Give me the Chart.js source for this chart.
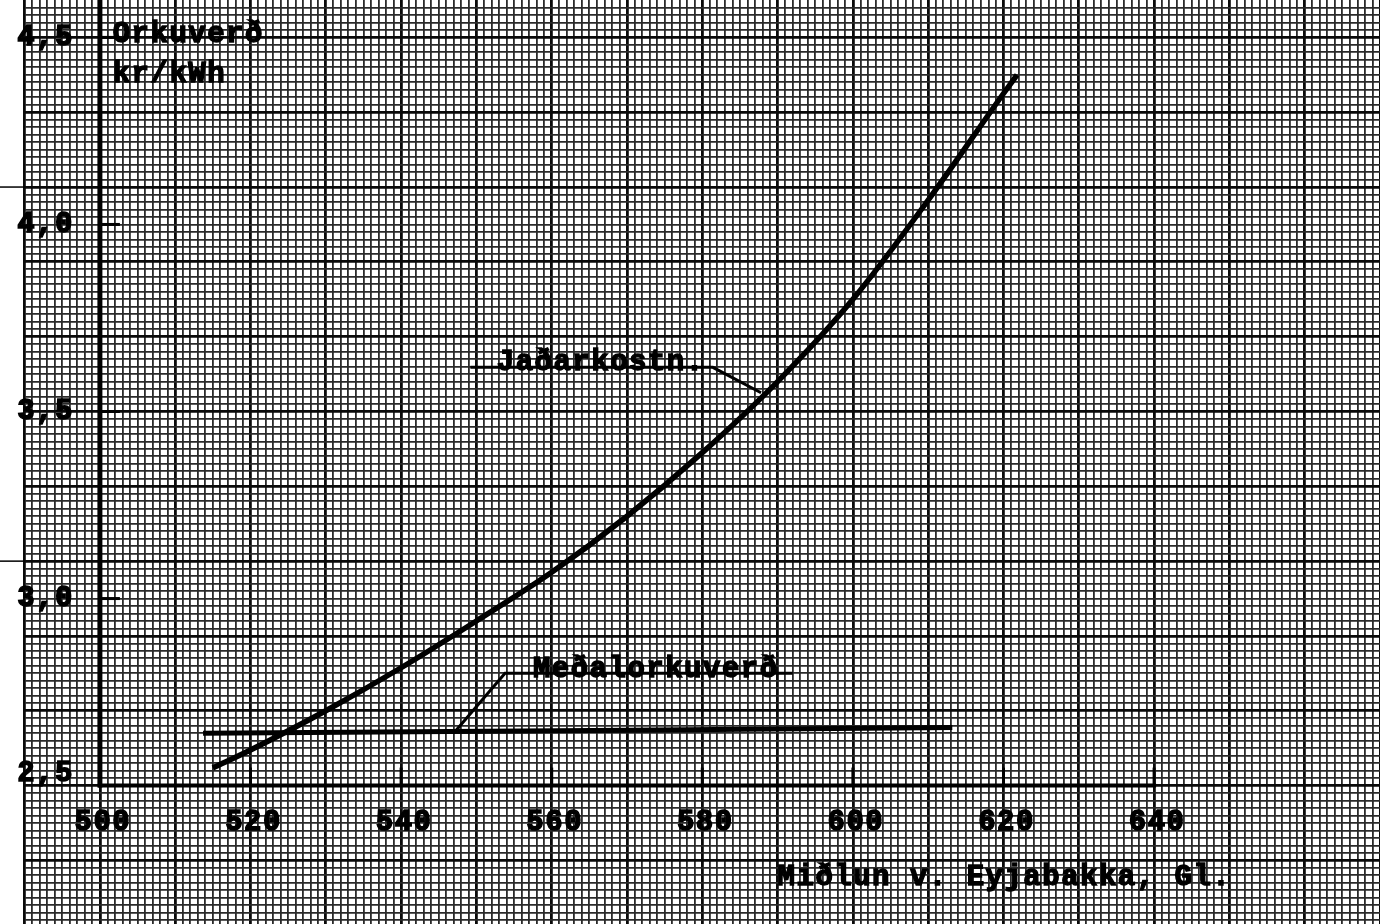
<!DOCTYPE html>
<html>
<head>
<meta charset="utf-8">
<title>Orkuverð</title>
<script src="https://cdn.jsdelivr.net/npm/chart.js@4.4.1/dist/chart.umd.min.js"></script>
<style>
  html, body { margin: 0; padding: 0; background: #fff; }
  canvas { display: block; }
</style>
</head>
<body>
<canvas id="chart" width="1380" height="924"></canvas>
<script>
// Miðlun v. Eyjabakka (Gl) against energy price, kr/kWh
const midlun = [515, 520, 530, 540, 550, 560, 570, 580, 590, 600, 610, 620, 621.8];
const jadarkostn = [2.547, 2.595, 2.70, 2.815, 2.94, 3.07, 3.22, 3.39, 3.58, 3.80, 4.065, 4.35, 4.40];

const medalX = [513.7, 570, 613.2];
const medalorkuverd = [2.640, 2.648, 2.655];

const xTickValues = [500, 520, 540, 560, 580, 600, 620, 640];
const xTickLabels = ['500', '520', '540', '560', '580', '600', '620', '640'];
const yTickValues = [4.5, 4.0, 3.5, 3.0, 2.5];
const yTickLabels = ['4,5', '4,0', '3,5', '3,0', '2,5'];

const yTitle = ['Orkuverð', 'kr/kWh'];
const xTitle = 'Miðlun v. Eyjabakka, Gl.';
const costLabel = 'Jaðarkostn.';
const meanLabel = 'Meðalorkuverð';

// Graph paper extent (x in Gl, y in kr/kWh)
const PAPER = { xMin: 490, xMax: 670, yMin: 2.13, yMax: 4.6 };

const FONT = 'bold 29px "Liberation Mono", "DejaVu Sans Mono", monospace';

function paperLinesX() {
  const out = [];
  for (let v = PAPER.xMin; v <= PAPER.xMax; v++) out.push({ value: v });
  return out;
}
function paperLinesY() {
  const out = [];
  for (let i = Math.ceil(PAPER.yMin * 50); i <= Math.floor(PAPER.yMax * 50); i++) out.push({ value: i / 50 });
  return out;
}
const isMajorX = v => Math.round(v) % 10 === 0;
const isMajorY = v => Math.round(v * 50) % 10 === 5;

function typeText(ctx, text, x, y, align, baseline) {
  ctx.save();
  ctx.font = FONT;
  ctx.letterSpacing = '1.5px';
  ctx.textAlign = align;
  ctx.textBaseline = baseline;
  ctx.fillStyle = '#000';
  ctx.strokeStyle = '#000';
  ctx.lineWidth = 1.4;
  ctx.fillText(text, x, y);
  ctx.strokeText(text, x, y);
  ctx.restore();
}

const paperAxes = {
  id: 'paperAxes',
  afterDraw(chart) {
    const { ctx, scales: { x, y } } = chart;
    const ax = x.getPixelForValue(500);
    const ay = y.getPixelForValue(2.5);
    const xEnd = x.getPixelForValue(640);

    ctx.save();
    ctx.strokeStyle = '#000';
    ctx.lineCap = 'butt';

    // margin marks continuing two heavy paper lines
    ctx.lineWidth = 1.5;
    [4.1, 3.1].forEach(v => {
      const py = y.getPixelForValue(v);
      ctx.beginPath();
      ctx.moveTo(0, py);
      ctx.lineTo(chart.chartArea.left, py);
      ctx.stroke();
    });

    // vertical axis
    ctx.lineWidth = 5;
    ctx.beginPath();
    ctx.moveTo(ax, 0);
    ctx.lineTo(ax, ay + 2);
    ctx.stroke();

    // horizontal axis
    ctx.lineWidth = 4;
    ctx.beginPath();
    ctx.moveTo(ax - 2, ay);
    ctx.lineTo(xEnd + 2, ay);
    ctx.stroke();

    // x tick marks and labels
    ctx.lineWidth = 3;
    xTickValues.forEach((v, i) => {
      const px = x.getPixelForValue(v);
      if (v !== 500) {
        ctx.beginPath();
        ctx.moveTo(px, ay);
        ctx.lineTo(px, ay - 18);
        ctx.stroke();
      }
      typeText(ctx, xTickLabels[i], px + 3, ay + 37, 'center', 'middle');
    });

    // y tick marks and labels
    yTickValues.forEach((v, i) => {
      const py = y.getPixelForValue(v);
      if (v !== 2.5) {
        ctx.lineWidth = 3;
        ctx.beginPath();
        ctx.moveTo(ax, py);
        ctx.lineTo(ax + 20, py);
        ctx.stroke();
      }
      typeText(ctx, yTickLabels[i], ax - 26, Math.min(py, ay - 12), 'right', 'middle');
    });

    // axis titles
    typeText(ctx, yTitle[0], x.getPixelForValue(501.7), y.getPixelForValue(4.506), 'left', 'middle');
    typeText(ctx, yTitle[1], x.getPixelForValue(501.7), y.getPixelForValue(4.40), 'left', 'middle');
    typeText(ctx, xTitle, x.getPixelForValue(590), y.getPixelForValue(2.253), 'left', 'middle');

    // curve labels with leader lines
    const notes = [
      { text: costLabel, at: [552.7, 3.63], path: [[549.2, 3.618], [581.4, 3.618], [587.8, 3.55]] },
      { text: meanLabel, at: [557.5, 2.81], path: [[592.0, 2.80], [553.8, 2.80], [547.2, 2.645]] }
    ];
    notes.forEach(n => {
      ctx.lineWidth = 3;
      ctx.beginPath();
      n.path.forEach((p, k) => {
        const px = x.getPixelForValue(p[0]);
        const py = y.getPixelForValue(p[1]);
        if (k === 0) ctx.moveTo(px, py); else ctx.lineTo(px, py);
      });
      ctx.stroke();
      typeText(ctx, n.text, x.getPixelForValue(n.at[0]), y.getPixelForValue(n.at[1]), 'left', 'middle');
    });
    ctx.restore();
  }
};

new Chart(document.getElementById('chart'), {
  type: 'line',
  data: {
    datasets: [
      {
        label: costLabel,
        data: midlun.map((v, i) => ({ x: v, y: jadarkostn[i] })),
        borderColor: '#000',
        borderWidth: 5.5,
        pointRadius: 0,
        cubicInterpolationMode: 'monotone',
        fill: false
      },
      {
        label: meanLabel,
        data: medalX.map((v, i) => ({ x: v, y: medalorkuverd[i] })),
        borderColor: '#000',
        borderWidth: 5,
        pointRadius: 0,
        fill: false
      }
    ]
  },
  options: {
    responsive: false,
    animation: false,
    devicePixelRatio: 1,
    layout: { padding: { left: 24.6, right: 0, top: 0, bottom: 0 } },
    plugins: { legend: { display: false }, tooltip: { enabled: false } },
    scales: {
      x: {
        type: 'linear',
        min: PAPER.xMin,
        max: PAPER.xMax,
        afterBuildTicks: s => { s.ticks = paperLinesX(); },
        ticks: { display: false },
        border: { display: false },
        grid: {
          drawTicks: false,
          color: c => isMajorX(c.tick.value) ? '#0a0a0a' : '#2a2a2a',
          lineWidth: c => isMajorX(c.tick.value) ? 2.8 : 1.8
        }
      },
      y: {
        type: 'linear',
        min: PAPER.yMin,
        max: PAPER.yMax,
        afterBuildTicks: s => { s.ticks = paperLinesY(); },
        ticks: { display: false },
        border: { display: false },
        grid: {
          drawTicks: false,
          color: c => isMajorY(c.tick.value) ? '#0a0a0a' : '#2a2a2a',
          lineWidth: c => isMajorY(c.tick.value) ? 2.8 : 1.8
        }
      }
    }
  },
  plugins: [paperAxes]
});
</script>
</body>
</html>
